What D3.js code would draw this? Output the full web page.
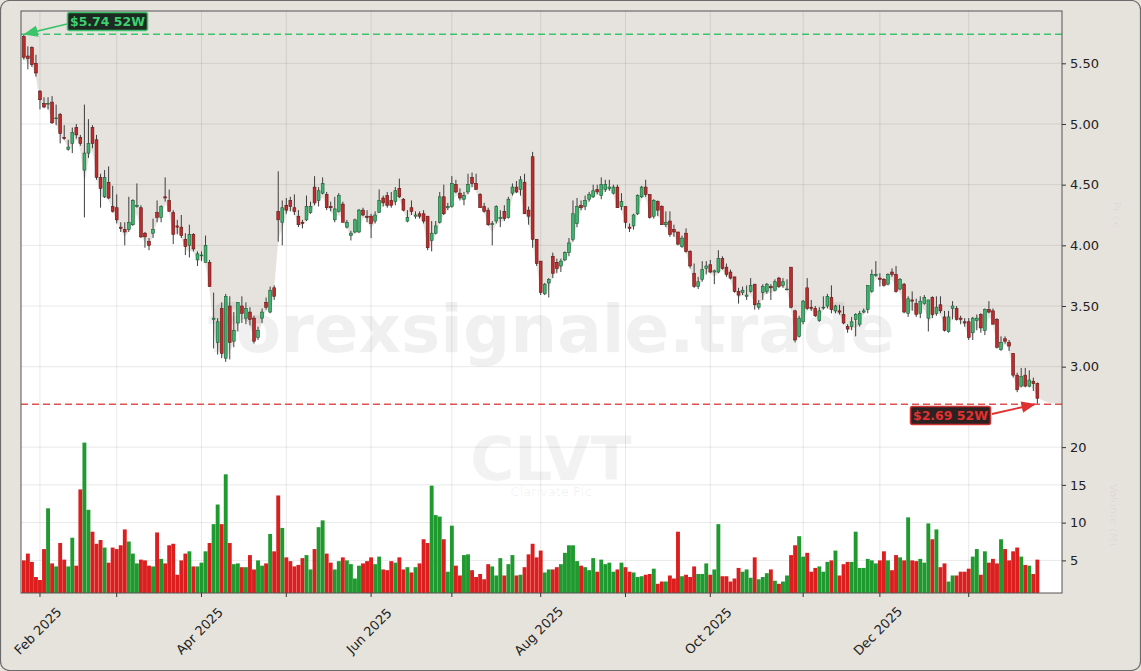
<!DOCTYPE html>
<html><head><meta charset="utf-8">
<script src="https://cdn.jsdelivr.net/npm/d3@7"></script>
<style>
body{margin:0;background:#e6e3dd;}
svg{display:block;font-family:"DejaVu Sans",sans-serif;}
</style>
</head><body>
<svg id="chart" width="1141" height="671"></svg>
<script>
// ---------------- DATA ----------------
const ticker = "CLVT";
const companyName = "Clarivate Plc";
const watermark = "forexsignale.trade";
const startDate = "2025-01-28";
const endDate = "2026-01-28";
const holidays = ["2025-02-17","2025-04-18","2025-05-26","2025-06-19","2025-07-04","2025-09-01","2025-11-27","2025-12-25","2026-01-01","2026-01-19"];

const open = [5.72,5.56,5.63,5.50,5.27,5.17,5.17,5.18,5.05,5.08,4.89,4.79,4.84,4.97,4.89,4.62,4.76,4.97,4.87,4.56,
4.40,4.52,4.32,4.31,4.15,4.13,4.13,4.17,4.32,4.31,4.10,4.03,4.10,4.27,4.23,4.40,4.37,4.27,4.16,4.15,
4.05,4.00,4.09,3.88,3.92,3.86,3.86,3.39,3.20,3.48,3.07,3.50,3.21,3.36,3.50,3.40,3.45,3.40,3.24,3.40,
3.53,3.45,3.65,4.28,4.19,4.33,4.37,4.31,4.24,4.19,4.21,4.27,4.48,4.37,4.43,4.42,4.32,4.21,4.28,4.34,
4.15,4.08,4.11,4.11,4.29,4.24,4.24,4.20,4.27,4.39,4.41,4.37,4.36,4.47,4.38,4.20,4.31,4.24,4.26,4.26,
4.24,4.04,4.10,4.19,4.40,4.31,4.32,4.50,4.43,4.38,4.44,4.56,4.51,4.42,4.32,4.29,4.17,4.20,4.22,4.28,
4.23,4.43,4.48,4.46,4.52,4.29,4.73,4.05,3.87,3.60,3.69,3.91,3.86,3.83,3.88,3.94,4.05,4.18,4.33,4.32,
4.38,4.40,4.46,4.41,4.46,4.47,4.43,4.48,4.32,4.32,4.15,4.16,4.26,4.40,4.48,4.42,4.24,4.36,4.32,4.17,
4.20,4.13,4.11,3.99,4.10,3.95,3.77,3.66,3.72,3.81,3.84,3.78,3.78,3.89,3.82,3.78,3.74,3.62,3.61,3.58,
3.62,3.68,3.49,3.61,3.62,3.66,3.63,3.73,3.67,3.64,3.82,3.46,3.25,3.37,3.65,3.49,3.48,3.38,3.49,3.50,
3.57,3.46,3.46,3.43,3.33,3.33,3.39,3.35,3.45,3.47,3.62,3.76,3.73,3.72,3.68,3.78,3.76,3.64,3.68,3.44,
3.55,3.52,3.44,3.52,3.40,3.57,3.44,3.51,3.41,3.29,3.48,3.48,3.40,3.37,3.37,3.28,3.38,3.43,3.30,3.47,
3.46,3.39,3.14,3.23,3.20,3.11,2.93,2.84,2.93,2.84,2.88,2.86];
const high = [5.74,5.64,5.64,5.57,5.28,5.22,5.22,5.23,5.16,5.09,4.99,4.87,4.97,5.00,4.91,5.16,5.04,4.99,4.91,4.59,
4.62,4.65,4.49,4.42,4.19,4.19,4.40,4.38,4.51,4.33,4.11,4.06,4.22,4.37,4.33,4.56,4.46,4.29,4.21,4.25,
4.10,4.17,4.10,3.95,3.95,4.08,3.88,3.61,3.40,3.53,3.60,3.58,3.45,3.53,3.58,3.53,3.49,3.42,3.33,3.48,
3.57,3.66,3.67,4.61,4.37,4.39,4.40,4.42,4.29,4.21,4.41,4.36,4.57,4.48,4.56,4.44,4.36,4.40,4.43,4.36,
4.21,4.12,4.22,4.30,4.31,4.29,4.26,4.28,4.46,4.41,4.44,4.44,4.48,4.55,4.39,4.29,4.37,4.28,4.28,4.29,
4.24,4.20,4.20,4.44,4.50,4.35,4.57,4.54,4.47,4.44,4.59,4.60,4.59,4.43,4.35,4.31,4.20,4.33,4.29,4.33,
4.40,4.51,4.53,4.57,4.59,4.32,4.77,4.05,3.87,3.69,3.73,3.94,3.89,3.89,3.95,4.06,4.37,4.39,4.37,4.41,
4.44,4.50,4.50,4.56,4.54,4.54,4.50,4.50,4.43,4.32,4.18,4.26,4.42,4.49,4.54,4.42,4.38,4.37,4.33,4.28,
4.28,4.17,4.11,4.08,4.14,3.96,3.85,3.74,3.87,3.87,3.88,3.80,3.96,3.91,3.85,3.80,3.74,3.65,3.66,3.67,
3.73,3.68,3.55,3.68,3.69,3.68,3.72,3.74,3.73,3.72,3.82,3.47,3.42,3.55,3.73,3.55,3.50,3.49,3.58,3.60,
3.67,3.51,3.51,3.50,3.35,3.41,3.44,3.46,3.48,3.67,3.80,3.87,3.77,3.73,3.77,3.81,3.83,3.73,3.69,3.58,
3.62,3.56,3.58,3.59,3.55,3.58,3.58,3.58,3.46,3.46,3.54,3.50,3.42,3.40,3.40,3.41,3.43,3.44,3.48,3.54,
3.48,3.40,3.25,3.25,3.22,3.11,2.95,2.99,2.99,2.97,2.91,2.87];
const low = [5.53,5.45,5.47,5.39,5.12,5.13,5.12,5.00,4.99,4.84,4.87,4.78,4.76,4.88,4.82,4.23,4.72,4.80,4.54,4.31,
4.39,4.38,4.27,4.18,4.11,4.00,4.11,4.16,4.31,4.06,3.98,3.96,4.06,4.19,4.19,4.36,4.28,4.01,4.09,4.06,
3.92,3.90,3.95,3.83,3.87,3.86,3.66,3.15,3.10,3.07,3.04,3.06,3.16,3.29,3.36,3.35,3.34,3.19,3.22,3.36,
3.47,3.44,3.55,4.03,4.00,4.26,4.28,4.25,4.15,4.14,4.20,4.26,4.33,4.32,4.42,4.29,4.28,4.19,4.27,4.19,
4.14,4.04,4.10,4.10,4.24,4.19,4.06,4.18,4.27,4.32,4.31,4.31,4.33,4.39,4.28,4.19,4.25,4.22,4.22,4.18,
3.96,3.95,4.09,4.18,4.25,4.29,4.31,4.43,4.37,4.33,4.42,4.48,4.46,4.31,4.27,4.16,4.00,4.18,4.15,4.20,
4.22,4.41,4.43,4.41,4.26,4.17,3.98,3.83,3.59,3.59,3.57,3.73,3.77,3.78,3.87,3.91,4.03,4.15,4.29,4.29,
4.36,4.39,4.42,4.38,4.44,4.45,4.42,4.31,4.29,4.14,4.11,4.13,4.25,4.39,4.40,4.22,4.22,4.24,4.17,4.15,
4.07,4.07,4.00,3.98,3.94,3.81,3.65,3.64,3.70,3.76,3.77,3.68,3.77,3.80,3.74,3.72,3.61,3.52,3.59,3.55,
3.61,3.47,3.47,3.55,3.60,3.55,3.62,3.65,3.65,3.63,3.48,3.20,3.24,3.35,3.47,3.46,3.41,3.37,3.47,3.48,
3.44,3.44,3.43,3.35,3.28,3.30,3.25,3.33,3.44,3.44,3.61,3.74,3.66,3.66,3.67,3.74,3.61,3.63,3.44,3.41,
3.46,3.41,3.40,3.51,3.29,3.40,3.42,3.44,3.29,3.28,3.39,3.38,3.35,3.33,3.22,3.22,3.30,3.28,3.26,3.44,
3.35,3.15,3.13,3.19,3.13,2.91,2.79,2.83,2.83,2.83,2.80,2.69];
const close = [5.55,5.54,5.49,5.42,5.20,5.14,5.17,5.01,5.05,4.92,4.88,4.81,4.93,4.91,4.84,4.76,4.84,4.84,4.56,4.47,
4.56,4.39,4.28,4.21,4.14,4.11,4.19,4.37,4.33,4.07,4.07,4.00,4.13,4.23,4.32,4.39,4.28,4.09,4.15,4.08,
3.99,4.09,3.97,3.93,3.92,4.00,3.66,3.40,3.37,3.11,3.58,3.20,3.30,3.53,3.44,3.48,3.39,3.21,3.30,3.45,
3.49,3.63,3.58,4.21,4.31,4.29,4.32,4.28,4.17,4.18,4.32,4.32,4.35,4.45,4.51,4.31,4.31,4.30,4.41,4.19,
4.19,4.10,4.21,4.29,4.25,4.23,4.18,4.25,4.37,4.35,4.33,4.33,4.45,4.40,4.29,4.23,4.28,4.25,4.24,4.20,
3.98,4.10,4.16,4.40,4.26,4.32,4.51,4.44,4.39,4.41,4.50,4.51,4.46,4.31,4.28,4.17,4.18,4.32,4.23,4.22,
4.38,4.48,4.44,4.54,4.26,4.24,4.05,3.85,3.61,3.68,3.72,3.77,3.81,3.87,3.94,4.02,4.26,4.32,4.31,4.37,
4.42,4.45,4.44,4.50,4.50,4.48,4.48,4.31,4.36,4.19,4.14,4.25,4.41,4.48,4.42,4.23,4.37,4.29,4.17,4.19,
4.09,4.11,4.01,4.06,3.95,3.83,3.66,3.70,3.80,3.83,3.78,3.79,3.89,3.81,3.76,3.73,3.62,3.59,3.63,3.59,
3.67,3.51,3.52,3.66,3.68,3.65,3.70,3.66,3.70,3.64,3.49,3.22,3.40,3.54,3.48,3.48,3.42,3.46,3.49,3.58,
3.47,3.50,3.45,3.36,3.31,3.37,3.43,3.44,3.46,3.67,3.76,3.76,3.72,3.67,3.76,3.76,3.62,3.72,3.45,3.56,
3.54,3.43,3.54,3.57,3.55,3.43,3.49,3.46,3.30,3.41,3.50,3.39,3.39,3.36,3.24,3.40,3.40,3.32,3.47,3.45,
3.35,3.16,3.20,3.21,3.17,2.93,2.81,2.92,2.84,2.89,2.86,2.74];
const volume = [5.0,5.9,4.8,2.8,2.4,6.5,11.9,4.6,4.2,7.3,5.1,4.2,8.0,4.3,14.4,20.6,11.7,8.8,7.2,7.7,
6.7,4.7,6.7,6.5,7.0,9.1,7.5,5.9,4.6,5.1,5.0,4.3,4.2,8.7,5.2,4.6,7.0,7.2,3.1,5.0,
5.9,6.2,4.2,4.2,4.7,6.2,7.3,9.8,12.4,9.8,16.4,7.3,4.5,4.6,4.1,4.1,5.7,3.8,5.0,4.3,
4.6,8.5,6.2,13.6,9.3,5.4,4.9,4.2,4.4,5.3,5.7,3.8,6.5,9.4,10.3,5.9,4.7,3.8,4.9,5.4,
5.0,4.5,2.6,4.3,4.6,4.9,5.4,4.5,5.5,3.8,3.7,4.9,4.7,5.4,3.8,4.1,3.4,4.1,4.6,7.8,
7.3,14.9,11.0,10.8,7.8,3.5,9.6,4.3,3.0,5.7,5.8,3.7,2.8,3.2,2.5,4.5,4.2,3.0,5.3,3.0,
4.5,5.7,3.0,3.1,4.1,5.8,7.2,5.4,6.3,3.4,3.8,3.8,4.1,4.5,6.0,7.0,7.0,4.9,4.3,4.1,
3.7,5.3,3.5,5.1,4.5,4.7,3.5,3.8,4.7,4.1,3.5,3.4,2.8,2.9,3.1,3.2,3.9,1.9,2.2,2.2,
3.0,2.6,8.8,2.9,3.1,2.8,4.2,3.2,3.2,4.6,3.1,3.8,9.8,2.9,2.9,2.2,2.6,4.0,3.5,3.8,
2.7,5.4,2.5,2.8,3.3,3.8,2.3,1.9,2.2,3.0,5.7,7.0,8.2,5.5,6.0,3.5,4.0,4.2,3.5,4.8,
5.0,6.3,3.0,4.5,4.8,4.8,8.8,4.0,4.0,5.2,5.0,4.6,5.0,6.2,5.0,3.7,5.7,5.4,5.0,10.7,
5.0,4.9,5.2,4.7,9.9,7.8,9.1,4.1,4.6,2.2,3.0,3.0,3.5,3.5,3.9,5.5,6.5,3.1,6.2,4.7,
5.2,4.6,7.8,6.5,5.0,6.2,6.7,5.5,4.4,4.3,3.2,5.1];
const priceTicks = [3.00, 3.50, 4.00, 4.50, 5.00, 5.50];
const volumeTicks = [5, 10, 15, 20];
const high52 = 5.74, low52 = 2.69;
const high52Label = "$5.74 52W", low52Label = "$2.69 52W";

// ---------------- TRADING DATES ----------------
const hol = new Set(holidays);
const dates = [];
for (let d = new Date(startDate + "T00:00:00Z"); d <= new Date(endDate + "T00:00:00Z"); d = new Date(d.getTime() + 86400000)) {
  const wd = d.getUTCDay();
  const s = d.toISOString().slice(0, 10);
  if (wd !== 0 && wd !== 6 && !hol.has(s)) dates.push(new Date(d));
}
const N = close.length;
const idx = d3.range(N);

// ---------------- LAYOUT ----------------
const L = 21, R = 1062, T = 11, PB = 427, VB = 593;
const svg = d3.select("#chart");
const x = d3.scaleLinear().domain([-0.7, 257.1]).range([L, R]);
const yP = d3.scaleLinear().domain([2.503, 5.931]).range([PB, T]);
const yV = d3.scaleLinear().domain([0.68, 22.8]).range([VB, 426]);
const step = x(1) - x(0);

// outer frame
svg.append("rect").attr("x", 0.5).attr("y", 0.5).attr("width", 1140).attr("height", 670)
  .attr("rx", 9).attr("fill", "#e6e3dd").attr("stroke", "#6b6b6b").attr("stroke-width", 1.2);

// plot background
svg.append("rect").attr("x", L).attr("y", T).attr("width", R - L).attr("height", VB - T).attr("fill", "#ffffff");

// clip
svg.append("clipPath").attr("id", "pclip").append("rect").attr("x", L).attr("y", T).attr("width", R - L).attr("height", PB - T);

// shaded area above a smoothed line through the candle body bottoms
const bodyLow = idx.map(i => Math.min(open[i], close[i]));
const pts = [[L, yP(bodyLow[0])]].concat(idx.map(i => [x(i), yP((bodyLow[i] + low[i]) / 2)])).concat([[R, yP(low52)]]);
const area = d3.area().x(d => d[0]).y0(T).y1(d => d[1]).curve(d3.curveBasis);
svg.append("path").attr("clip-path", "url(#pclip)").attr("d", area(pts)).attr("fill", "#e6e3de");

// month ticks
const monthIdx = idx.filter(i => i > 0 && dates[i].getUTCMonth() !== dates[i - 1].getUTCMonth());
const fmt = d3.utcFormat("%b %Y");

// grid
const grid = svg.append("g").attr("stroke", "#000").attr("stroke-opacity", 0.09).attr("stroke-width", 1);
monthIdx.forEach(i => grid.append("line").attr("x1", x(i)).attr("x2", x(i)).attr("y1", T).attr("y2", VB));
priceTicks.forEach(p => grid.append("line").attr("x1", L).attr("x2", R).attr("y1", yP(p)).attr("y2", yP(p)));
volumeTicks.forEach(v => grid.append("line").attr("x1", L).attr("x2", R).attr("y1", yV(v)).attr("y2", yV(v)));

// watermarks
svg.append("text").attr("x", 551).attr("y", 352).attr("text-anchor", "middle")
  .attr("font-size", 66).attr("font-weight", "bold").attr("fill", "#000").attr("fill-opacity", 0.06).text(watermark);
svg.append("text").attr("x", 551).attr("y", 480).attr("text-anchor", "middle")
  .attr("font-size", 60).attr("font-weight", "bold").attr("fill", "#000").attr("fill-opacity", 0.05).text(ticker);
svg.append("text").attr("x", 551).attr("y", 496).attr("text-anchor", "middle")
  .attr("font-size", 13).attr("fill", "#000").attr("fill-opacity", 0.06).text(companyName);

// volume bars
const upCol = i => close[i] >= open[i];
svg.append("g").selectAll("rect").data(idx).join("rect")
  .attr("x", i => x(i) - step * 0.48).attr("width", step * 0.96)
  .attr("y", i => yV(volume[i])).attr("height", i => VB - yV(volume[i]))
  .attr("fill", i => upCol(i) ? "#1f9a2e" : "#dc1e1e");

// candles
const cg = svg.append("g");
cg.selectAll("line").data(idx).join("line")
  .attr("x1", i => x(i)).attr("x2", i => x(i))
  .attr("y1", i => yP(high[i])).attr("y2", i => yP(low[i]))
  .attr("stroke", "#3d3d3d").attr("stroke-width", 1);
cg.selectAll("rect").data(idx).join("rect")
  .attr("x", i => x(i) - step * 0.35).attr("width", step * 0.7)
  .attr("y", i => yP(Math.max(open[i], close[i])))
  .attr("height", i => Math.max(0.8, Math.abs(yP(open[i]) - yP(close[i]))))
  .attr("fill", i => upCol(i) ? "#3cb46e" : "#c02a2a")
  .attr("stroke", i => upCol(i) ? "#1d5a36" : "#5a1a1a").attr("stroke-width", 0.6);

// 52W lines
svg.append("line").attr("x1", L).attr("x2", R).attr("y1", yP(high52)).attr("y2", yP(high52))
  .attr("stroke", "#3cc46a").attr("stroke-width", 1.6).attr("stroke-dasharray", "7,4");
svg.append("line").attr("x1", L).attr("x2", R).attr("y1", yP(low52)).attr("y2", yP(low52))
  .attr("stroke", "#e05252").attr("stroke-width", 1.6).attr("stroke-dasharray", "7,4");

// arrow markers
const defs = svg.append("defs");
[["ag", "#3cc46a"], ["ar", "#e0302f"]].forEach(([id, c]) => {
  defs.append("marker").attr("id", id).attr("viewBox", "0 0 10 10").attr("refX", 9).attr("refY", 5)
    .attr("markerWidth", 8).attr("markerHeight", 8).attr("orient", "auto-start-reverse")
    .append("path").attr("d", "M0,1 L10,5 L0,9 z").attr("fill", c);
});

// high label
const hiIdx = high.indexOf(d3.max(high)), loIdx = low.indexOf(d3.min(low));
svg.append("line").attr("x1", 67).attr("y1", 24).attr("x2", x(hiIdx) + 1).attr("y2", yP(high52))
  .attr("stroke", "#3cc46a").attr("stroke-width", 1.8).attr("marker-end", "url(#ag)");
svg.append("rect").attr("x", 67.5).attr("y", 12.5).attr("width", 80).attr("height", 18).attr("rx", 2)
  .attr("fill", "#1d2a22").attr("stroke", "#3cc46a").attr("stroke-width", 1.5);
svg.append("text").attr("x", 107.5).attr("y", 26).attr("text-anchor", "middle").attr("font-size", 12.5)
  .attr("font-weight", "bold").attr("fill", "#3cd070").text(high52Label);

// low label
svg.append("line").attr("x1", 992).attr("y1", 414).attr("x2", x(loIdx) - 3).attr("y2", yP(low52))
  .attr("stroke", "#e0302f").attr("stroke-width", 1.8).attr("marker-end", "url(#ar)");
svg.append("rect").attr("x", 910.5).attr("y", 406.5).attr("width", 80).attr("height", 18).attr("rx", 2)
  .attr("fill", "#2c2222").attr("stroke", "#d03333").attr("stroke-width", 1.5);
svg.append("text").attr("x", 950.5).attr("y", 420).attr("text-anchor", "middle").attr("font-size", 12.5)
  .attr("font-weight", "bold").attr("fill", "#e33030").text(low52Label);

// spines
svg.append("rect").attr("x", L).attr("y", T).attr("width", R - L).attr("height", VB - T)
  .attr("fill", "none").attr("stroke", "#555").attr("stroke-width", 1);

// right axes
const pAxis = d3.axisRight(yP).tickValues(priceTicks).tickFormat(d3.format(".2f")).tickSize(4).tickPadding(4);
const vAxis = d3.axisRight(yV).tickValues(volumeTicks).tickFormat(d3.format("d")).tickSize(4).tickPadding(4);
[pAxis, vAxis].forEach(ax => {
  const g = svg.append("g").attr("transform", `translate(${R},0)`).call(ax);
  g.select(".domain").remove();
  g.selectAll("line").attr("stroke", "#333");
  g.selectAll("text").attr("font-size", 13).attr("fill", "#222").attr("font-family", "DejaVu Sans");
});

// x axis ticks and labels
const xg = svg.append("g");
monthIdx.forEach(i => {
  xg.append("line").attr("x1", x(i)).attr("x2", x(i)).attr("y1", VB).attr("y2", VB + 4).attr("stroke", "#333");
  if (dates[i].getUTCMonth() % 2 === 1) {
    xg.append("text").attr("transform", `translate(${x(i) - 2},${631}) rotate(-45)`)
      .attr("text-anchor", "middle").attr("dominant-baseline", "central")
      .attr("font-size", 13).attr("fill", "#222").text(fmt(dates[i]));
  }
});

// faint axis labels on right margin
svg.append("text").attr("transform", "translate(1113,215) rotate(90)").attr("text-anchor", "middle")
  .attr("font-size", 11).attr("fill", "#000").attr("fill-opacity", 0.05).text("Price");
svg.append("text").attr("transform", "translate(1110,515) rotate(90)").attr("text-anchor", "middle")
  .attr("font-size", 11).attr("fill", "#000").attr("fill-opacity", 0.05).text("Volume (M)");
</script>
</body></html>
